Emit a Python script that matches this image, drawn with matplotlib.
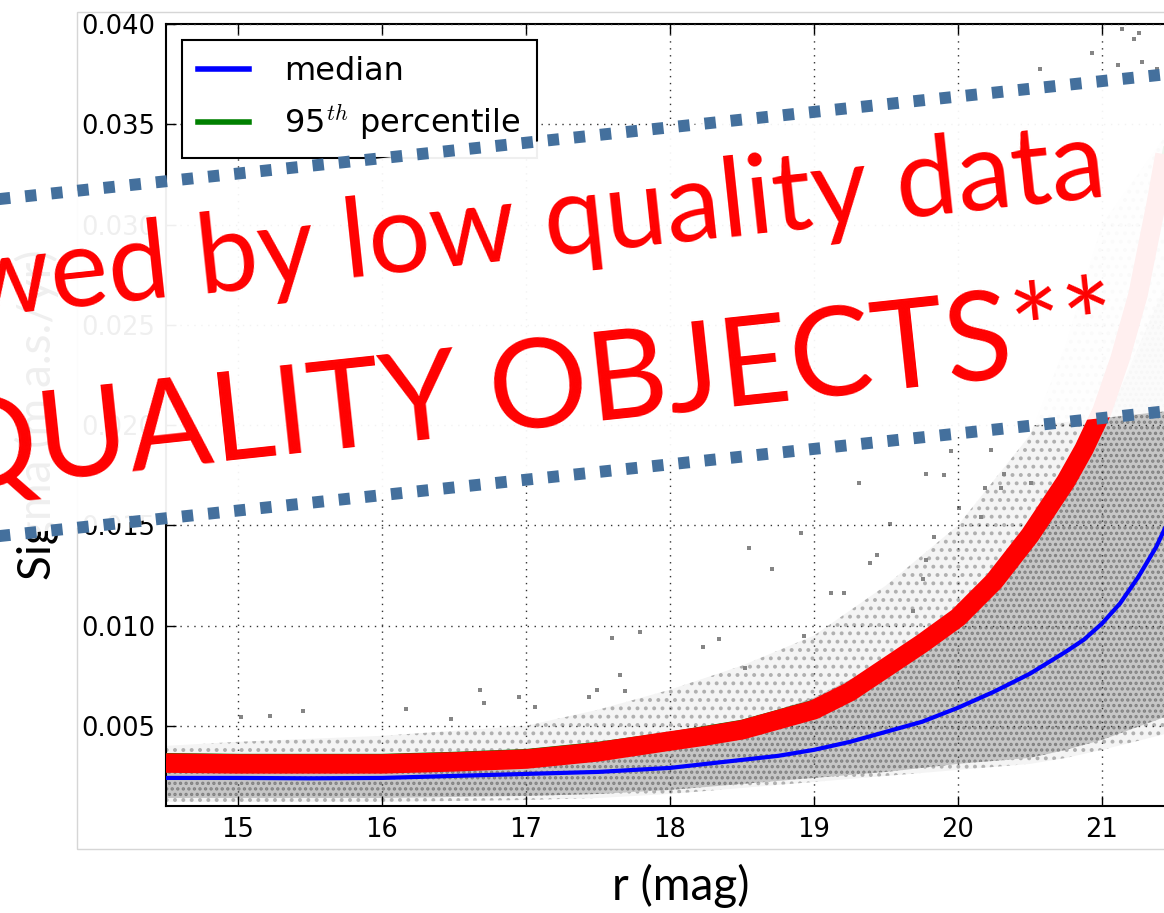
import numpy as np
import matplotlib.pyplot as plt
from matplotlib.lines import Line2D
from matplotlib.patches import Polygon, Rectangle

# r magnitude grid for the fitted curves
r_mag = [14.5, 15.0, 15.5, 16.0, 16.5, 17.0, 17.5, 18.0, 18.25, 18.5, 18.75, 19.0,
         19.25, 19.5, 19.75, 20.0, 20.25, 20.5, 20.75, 20.875, 21.0, 21.125, 21.25,
         21.375, 21.5]
median = [0.0024, 0.0024, 0.00238, 0.0024, 0.0025, 0.0026, 0.0027, 0.0029, 0.0031, 0.0033,
          0.0035, 0.0038, 0.0042, 0.0047, 0.0052, 0.0059, 0.0067, 0.0076, 0.0087, 0.0093,
          0.0101, 0.0111, 0.0124, 0.0139, 0.0158]
pct95 = [0.00354, 0.0035, 0.0035, 0.0035, 0.0036, 0.00374, 0.0041, 0.0046, 0.0049, 0.0052,
         0.0057, 0.0062, 0.0070, 0.0082, 0.0094, 0.0107, 0.0125, 0.0148, 0.0175, 0.0191,
         0.0210, 0.0236, 0.0268, 0.0313, 0.0363]
# hand drawn highlight over the 95th percentile
highlight = [0.00314, 0.0031, 0.0031, 0.0031, 0.0032, 0.00334, 0.0037, 0.00424, 0.0045, 0.0048,
             0.0053, 0.0058, 0.0067, 0.0079, 0.0091, 0.0104, 0.0122, 0.0145, 0.0172, 0.0188,
             0.0207, 0.0233, 0.0265, 0.0310, 0.0360]

# extent of the star cloud
cloud_r = [14.5, 15.0, 16.0, 17.0, 17.5, 18.0, 18.5, 19.0, 19.5, 20.0, 20.5, 20.75, 21.0, 21.5, 22.0]
core_lo = [0.0014, 0.0014, 0.0014, 0.0015, 0.0016, 0.0018, 0.0021, 0.0024, 0.0027, 0.0031,
           0.0034, 0.0038, 0.0043, 0.0056, 0.007]
core_hi = [0.0030, 0.0030, 0.0031, 0.0033, 0.0037, 0.0043, 0.0052, 0.0064, 0.0082, 0.0109,
           0.0148, 0.0172, 0.0197, 0.028, 0.036]
halo_lo = [0.0012, 0.0012, 0.0012, 0.0013, 0.0014, 0.0016, 0.0019, 0.0022, 0.0025, 0.0028,
           0.0031, 0.0034, 0.0038, 0.0047, 0.006]
halo_hi = [0.0040, 0.0042, 0.0045, 0.0050, 0.0058, 0.0068, 0.0080, 0.0095, 0.0120, 0.0150,
           0.0195, 0.0240, 0.0300, 0.0350, 0.0360]

# isolated stars away from the main cloud
stray_r = [16.68, 16.71, 16.95, 17.60, 17.65, 17.69, 17.49, 16.17, 15.45, 15.22, 15.02, 17.06,
           16.48, 17.44, 17.79, 19.31, 18.55, 18.71, 18.91, 19.44, 19.39, 19.78, 19.90, 19.53,
           18.34, 18.23, 18.52, 18.93, 19.12, 19.21, 20.23, 19.95, 20.30, 20.19, 19.78, 19.76,
           19.69, 19.83, 20.16, 20.01, 20.32, 20.51, 21.14, 21.26, 21.22, 20.93, 20.57, 21.11,
           21.28, 21.38]
stray_sigma = [0.00679, 0.00615, 0.00645, 0.00939, 0.00753, 0.00672, 0.0068, 0.00584, 0.00574,
               0.00549, 0.00542, 0.00595, 0.00534, 0.00645, 0.00969, 0.01712, 0.01385, 0.0128,
               0.0146, 0.01354, 0.01313, 0.01758, 0.0175, 0.01506, 0.00933, 0.00891, 0.0079,
               0.00948, 0.0116, 0.0116, 0.01875, 0.01871, 0.01684, 0.01684, 0.01327, 0.01232,
               0.01072, 0.01443, 0.01542, 0.01584, 0.01755, 0.01709, 0.03973, 0.03953, 0.03923,
               0.03853, 0.03778, 0.03794, 0.0381, 0.03778]

W, H = 1164, 913
plt.rcParams['mathtext.fontset'] = 'cm'
plt.rcParams['hatch.linewidth'] = 1.6

fig = plt.figure(figsize=(W / 100, H / 100), dpi=100)


def fx(px):
    return px / W


def fy(py):
    return 1 - py / H


ax = fig.add_axes([fx(166), fy(806), 1080 / W, 782 / H])

ax.fill_between(cloud_r, halo_lo, halo_hi, facecolor='#f4f4f4', edgecolor='#b0b0b0',
                hatch='..', linewidth=0, zorder=1)
ax.fill_between(cloud_r, core_lo, core_hi, facecolor='#c6c6c6', edgecolor='#808080',
                hatch='...', linewidth=0, zorder=1.5)
ax.plot(stray_r, stray_sigma, 's', color='#858585', ms=2.8, mew=0, zorder=2)

ax.plot(r_mag, median, color='#0000ff', lw=3, label='median', zorder=3)
ax.plot(r_mag, pct95, color='#008000', lw=3, label='95$^{th}$ percentile', zorder=3)
ax.plot(r_mag, highlight, color='#ff0000', lw=14, solid_capstyle='butt', zorder=4)

ax.set_xlim(14.5, 22)
ax.set_ylim(0.001, 0.040)
ax.set_xticks(np.arange(15, 22, 1))
ax.set_yticks(np.arange(0.005, 0.0401, 0.005))
ax.yaxis.set_major_formatter(plt.FormatStrFormatter('%.3f'))
ax.grid(True, color='0.2', linestyle=(0, (1, 4)), linewidth=1.0)
ax.set_axisbelow(False)
ax.tick_params(direction='in', top=True, right=True, length=7, width=1,
               labelsize=18.5, colors='k')
ax.tick_params(axis='y', pad=8)
ax.tick_params(axis='x', pad=8)
for sp in ax.spines.values():
    sp.set_linewidth(1.5)

leg = ax.legend(loc='upper left', fontsize=23, fancybox=False, edgecolor='k', framealpha=1,
                borderaxespad=0.5, handlelength=1.6, labelspacing=0.5, borderpad=0.5,
                handletextpad=1.1)
leg.get_frame().set_linewidth(1.5)
for ln in leg.get_lines():
    ln.set_linewidth(4)

# pasted plot border
fig.add_artist(Rectangle((fx(77), fy(849)), 1.2, fy(12) - fy(849), transform=fig.transFigure,
                         fill=False, edgecolor='#d6d6d6', lw=1, zorder=0.5))

# slide axis labels
fig.text(fx(37), fy(415), 'Sigma (m.a.s./yr)', rotation=90, ha='center', va='center',
         fontsize=33, family='Lato', color='k', zorder=2)
fig.text(fx(681), fy(886), 'r (mag)', ha='center', va='center', fontsize=33,
         family='Lato', color='k', zorder=2)

# tilted banner
slope = 0.107
angle = np.degrees(np.arctan(slope))
top0, bot0 = 199, 536
xs = [-30, 1200]
banner = Polygon([(fx(x), fy(top0 - slope * x)) for x in xs] +
                 [(fx(x), fy(bot0 - slope * x)) for x in xs[::-1]],
                 closed=True, transform=fig.transFigure, facecolor='white', alpha=0.94,
                 edgecolor='none', zorder=5)
fig.add_artist(banner)
for y0 in (top0, bot0):
    fig.add_artist(Line2D([fx(x) for x in xs], [fy(y0 - slope * x) for x in xs],
                          transform=fig.transFigure, color='#44709d', lw=8.6,
                          linestyle=(0, (0.95, 1.25)), dash_capstyle='butt', zorder=6))

fig.text(fx(1108), fy(315 - slope * 1108), 'wed by low quality data', rotation=angle,
         rotation_mode='anchor', ha='right', va='baseline', color='#ff0000', fontsize=79,
         family='Lato', zorder=7)
fig.text(fx(1120), fy(485 - slope * 1120), 'QUALITY OBJECTS**', rotation=angle,
         rotation_mode='anchor', ha='right', va='baseline', color='#ff0000', fontsize=89,
         family='Lato', zorder=7)

fig.savefig('out.png', dpi=100)
